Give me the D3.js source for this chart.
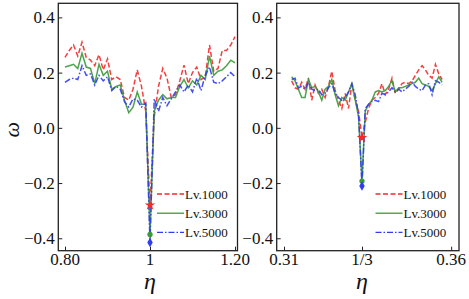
<!DOCTYPE html>
<html>
<head>
<meta charset="utf-8">
<script src="https://cdn.jsdelivr.net/npm/d3@7"></script>
<style>
  body { margin: 0; background: #fff; }
  svg { display: block; }
</style>
</head>
<body>
<div id="chart"></div>
<script>
// left panel, eta around 1
const etaLeft = [0.80, 0.81, 0.82, 0.83, 0.84, 0.85, 0.86, 0.87, 0.88, 0.89,
  0.90, 0.91, 0.92, 0.93, 0.94, 0.95, 0.96, 0.97, 0.98, 0.99,
  1.00, 1.01, 1.02, 1.03, 1.04, 1.05, 1.06, 1.07, 1.08, 1.09,
  1.10, 1.11, 1.12, 1.13, 1.14, 1.15, 1.16, 1.17, 1.18, 1.19, 1.20]
const lv1000Left = [0.255, 0.28, 0.30, 0.26, 0.31, 0.255, 0.245, 0.225, 0.265, 0.21,
  0.25, 0.175, 0.185, 0.175, 0.11, 0.10, 0.14, 0.21, 0.15, 0.06,
  -0.28, 0.04, 0.15, 0.215, 0.18, 0.11, 0.12, 0.17, 0.227, 0.16,
  0.20, 0.22, 0.175, 0.185, 0.30, 0.205, 0.215, 0.28, 0.28, 0.30, 0.33]
const lv3000Left = [0.22, 0.225, 0.23, 0.215, 0.27, 0.22, 0.215, 0.16, 0.23, 0.19,
  0.205, 0.14, 0.15, 0.155, 0.10, 0.055, 0.075, 0.13, 0.085, 0.085,
  -0.386, 0.06, 0.10, 0.12, 0.105, 0.11, 0.11, 0.15, 0.175, 0.145,
  0.17, 0.155, 0.19, 0.175, 0.26, 0.19, 0.205, 0.21, 0.225, 0.245, 0.235]
const lv5000Left = [0.165, 0.175, 0.18, 0.175, 0.225, 0.19, 0.195, 0.155, 0.19, 0.17,
  0.185, 0.135, 0.15, 0.14, 0.095, 0.075, 0.105, 0.10, 0.075, 0.09,
  -0.415, 0.105, 0.06, 0.11, 0.08, 0.105, 0.13, 0.155, 0.13, 0.155,
  0.13, 0.18, 0.135, 0.19, 0.22, 0.165, 0.16, 0.17, 0.185, 0.20, 0.185]

// right panel, eta around 1/3
const etaRight = [0.3123, 0.3133, 0.3143, 0.3153, 0.3163, 0.3173, 0.3183, 0.3193, 0.3203, 0.3213,
  0.3223, 0.3233, 0.3243, 0.3253, 0.3263, 0.3273, 0.3283, 0.3293, 0.3303, 0.3313,
  0.3323, 0.33333, 0.3343, 0.3353, 0.3363, 0.3373, 0.3383, 0.3393, 0.3403, 0.3413,
  0.3423, 0.3433, 0.3443, 0.3453, 0.3463, 0.3473, 0.3483, 0.3493, 0.3503, 0.3513,
  0.3523, 0.3533, 0.3543, 0.3553, 0.3563, 0.3573]
const lv1000Right = [0.17, 0.145, 0.14, 0.165, 0.14, 0.18, 0.10, 0.155, 0.125, 0.14,
  0.11, 0.15, 0.205, 0.135, 0.10, 0.07, 0.125, 0.07, 0.16, 0.10,
  0.06, -0.036, 0.02, 0.07, 0.10, 0.11, 0.125, 0.16, 0.12, 0.14,
  0.18, 0.125, 0.14, 0.16, 0.165, 0.16, 0.17, 0.19, 0.21, 0.225,
  0.21, 0.19, 0.18, 0.23, 0.195, 0.175]
const lv3000Right = [0.185, 0.17, 0.14, 0.11, 0.11, 0.175, 0.145, 0.15, 0.13, 0.10,
  0.14, 0.15, 0.175, 0.12, 0.08, 0.11, 0.10, 0.13, 0.16, 0.10,
  0.04, -0.193, 0.06, 0.085, 0.10, 0.13, 0.135, 0.13, 0.135, 0.15,
  0.17, 0.13, 0.145, 0.145, 0.15, 0.155, 0.16, 0.165, 0.18, 0.16,
  0.155, 0.15, 0.135, 0.16, 0.185, 0.165]
const lv5000Right = [0.175, 0.18, 0.145, 0.15, 0.14, 0.165, 0.14, 0.135, 0.14, 0.12,
  0.125, 0.145, 0.16, 0.125, 0.11, 0.10, 0.11, 0.13, 0.16, 0.12,
  0.05, -0.211, 0.07, 0.085, 0.095, 0.10, 0.095, 0.125, 0.12, 0.13,
  0.145, 0.13, 0.14, 0.13, 0.14, 0.15, 0.165, 0.15, 0.14, 0.135,
  0.155, 0.16, 0.12, 0.17, 0.165, 0.155]

const legendLabels = ['Lv.1000', 'Lv.3000', 'Lv.5000']
const yTicks = [0.4, 0.2, 0.0, -0.2, -0.4]
const leftTicks = [0.80, 1.0, 1.20]
const leftTickLabels = ['0.80', '1', '1.20']
const rightTicks = [0.31, 1 / 3, 0.36]
const rightTickLabels = ['0.31', '1/3', '0.36']

const width = 469, height = 299
const font = "'Liberation Serif', 'Times New Roman', 'DejaVu Serif', serif"

const styles = [
  { color: '#f22a2a', dash: '5,2.5', symbol: d3.symbolStar, size: 34 },
  { color: '#3a9a3a', dash: null, symbol: d3.symbolCircle, size: 22 },
  { color: '#2f3cf0', dash: '6,2,1.5,2', symbol: d3.symbolDiamond, size: 26 }
]

let svg = d3.select('#chart')
  .append('svg')
  .attr('width', width)
  .attr('height', height)
  .style('font-family', font)

svg.append('rect')
  .attr('width', width)
  .attr('height', height)
  .attr('fill', '#fff')

let plotTop = 3.3, plotBottom = 250.7

let y = d3.scaleLinear()
  .domain([-0.445, 0.451])
  .range([plotBottom, plotTop])

function drawPanel(opts) {
  let x = d3.scaleLinear()
    .domain(opts.domain)
    .range([opts.left, opts.right])

  let g = svg.append('g')

  // axes, ticks pointing inward
  g.append('g')
    .attr('transform', `translate(0, ${plotBottom})`)
    .call(d3.axisTop(x).tickValues(opts.ticks).tickSize(4).tickFormat(''))
    .call(g => g.select('.domain').remove())
    .call(g => g.selectAll('.tick line').attr('stroke', '#222').attr('stroke-width', 1))

  g.append('g')
    .selectAll('text')
    .data(opts.ticks)
    .enter().append('text')
    .attr('x', d => x(d))
    .attr('y', plotBottom + 14)
    .attr('text-anchor', 'middle')
    .style('font-family', font)
    .style('font-size', '17px')
    .attr('fill', '#111')
    .text((d, i) => opts.tickLabels[i])

  g.append('g')
    .attr('transform', `translate(${opts.left}, 0)`)
    .call(d3.axisRight(y).tickValues(yTicks).tickSize(4).tickFormat(''))
    .call(g => g.select('.domain').remove())
    .call(g => g.selectAll('.tick line').attr('stroke', '#222').attr('stroke-width', 1))

  g.append('g')
    .selectAll('text')
    .data(yTicks)
    .enter().append('text')
    .attr('x', opts.left - 3.5)
    .attr('y', d => y(d) + 6)
    .attr('text-anchor', 'end')
    .style('font-family', font)
    .style('font-size', '17px')
    .attr('fill', '#111')
    .text(d => d3.format('.1f')(d).replace('-', '\u2212'))

  // data lines
  let line = d3.line()
    .x(d => x(d[0]))
    .y(d => y(d[1]))

  opts.series.forEach((vals, s) => {
    let pts = opts.eta.map((e, i) => [e, vals[i]])
    g.append('path')
      .datum(pts)
      .attr('d', line)
      .attr('fill', 'none')
      .attr('stroke', styles[s].color)
      .attr('stroke-width', 1.5)
      .attr('stroke-opacity', 0.9)
      .attr('stroke-dasharray', styles[s].dash)
  })

  // marker at the minimum of each series
  opts.series.forEach((vals, s) => {
    let i = d3.minIndex(vals)
    g.append('path')
      .attr('d', d3.symbol().type(styles[s].symbol).size(styles[s].size))
      .attr('transform', `translate(${x(opts.eta[i])}, ${y(vals[i])})`)
      .attr('fill', styles[s].color)
  })

  // legend
  let legend = g.append('g')
    .attr('transform', `translate(${opts.legendX}, 0)`)
  legendLabels.forEach((label, s) => {
    let ly = 194 + s * 19.2
    legend.append('line')
      .attr('x1', 0)
      .attr('x2', 27)
      .attr('y1', ly)
      .attr('y2', ly)
      .attr('stroke', styles[s].color)
      .attr('stroke-width', 1.3)
      .attr('stroke-dasharray', styles[s].dash)
    legend.append('text')
      .attr('x', 28)
      .attr('y', ly + 4.5)
      .style('font-family', font)
      .style('font-size', '13px')
      .attr('fill', '#111')
      .text(label)
  })

  // frame
  g.append('rect')
    .attr('x', opts.left)
    .attr('y', plotTop)
    .attr('width', opts.right - opts.left)
    .attr('height', plotBottom - plotTop)
    .attr('fill', 'none')
    .attr('stroke', '#222')
    .attr('stroke-width', 1.3)

  // x label
  g.append('text')
    .attr('x', x(opts.labelAt))
    .attr('y', 289)
    .attr('text-anchor', 'middle')
    .style('font-family', font)
    .style('font-style', 'italic')
    .style('font-size', '24px')
    .attr('fill', '#111')
    .text('η')
}

drawPanel({
  left: 58.3, right: 237.5,
  domain: [0.80 - 6.7 / 425, 0.80 + 172.5 / 425],
  ticks: leftTicks, tickLabels: leftTickLabels,
  eta: etaLeft,
  series: [lv1000Left, lv3000Left, lv5000Left],
  legendX: 157,
  labelAt: 1.0
})

drawPanel({
  left: 276.7, right: 459,
  domain: [0.31 - 7.3 / 3343, 0.31 + 175 / 3343],
  ticks: rightTicks, tickLabels: rightTickLabels,
  eta: etaRight,
  series: [lv1000Right, lv3000Right, lv5000Right],
  legendX: 375.5,
  labelAt: 1 / 3
})

// y label
svg.append('text')
  .attr('transform', `translate(19, ${y(0) + 2}) rotate(-90)`)
  .attr('text-anchor', 'middle')
  .style('font-family', font)
  .style('font-style', 'italic')
  .style('font-size', '22px')
  .attr('fill', '#111')
  .text('ω')
</script>
</body>
</html>
